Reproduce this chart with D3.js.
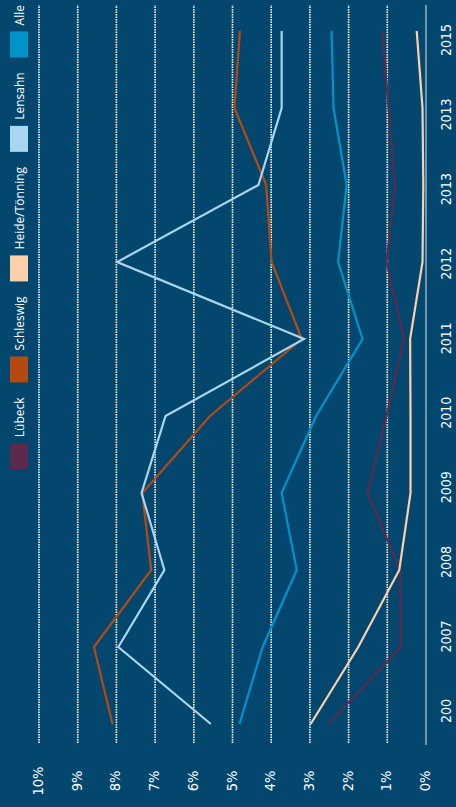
<!DOCTYPE html>
<html>
<head>
<meta charset="utf-8">
<script src="https://cdn.jsdelivr.net/npm/d3@7/dist/d3.min.js"></script>
<style>
  html, body { margin: 0; padding: 0; background: #03476f; }
  svg { display: block; }
</style>
</head>
<body>
<svg id="chart" width="456" height="807"></svg>
<script>
// ---- data ----
const categories = ["200", "2007", "2008", "2009", "2010", "2011", "2012", "2013", "2013", "2015"];
const valueTicks = [0, 1, 2, 3, 4, 5, 6, 7, 8, 9, 10];
const tickLabels = ["0%", "1%", "2%", "3%", "4%", "5%", "6%", "7%", "8%", "9%", "10%"];

const seriesNames = ["Lübeck", "Schleswig", "Heide/Tönning", "Lensahn", "Alle"];
const seriesColors = ["#5b2a4c", "#b44a12", "#fdd0ac", "#a8d6ee", "#0093c9"];

const luebeck      = [2.52, 0.65, 0.67, 1.51, 1.02, 0.57, 1.02, 0.80, 0.97, 1.12];
const schleswig    = [8.10, 8.58, 7.10, 7.33, 5.58, 3.21, 3.99, 4.13, 4.95, 4.81];
const heideToenning= [2.98, 1.75, 0.69, 0.40, 0.40, 0.41, 0.09, 0.07, 0.09, 0.24];
const lensahn      = [5.56, 7.95, 6.76, 7.35, 6.73, 3.15, 7.98, 4.33, 3.73, 3.73];
const alle         = [4.82, 4.22, 3.34, 3.73, 2.84, 1.64, 2.27, 2.05, 2.39, 2.44];

const seriesValues = [luebeck, schleswig, heideToenning, lensahn, alle];

// ---- layout (chart drawn in an unrotated frame, then rotated -90deg) ----
const W = 807, H = 456;
const svg = d3.select("#chart");
const g = svg.append("g").attr("transform", `translate(0,${W}) rotate(-90)`);

const x = d3.scalePoint().domain(d3.range(categories.length)).range([83, 776]);
const xLabel = d3.scalePoint().domain(d3.range(categories.length)).range([96, 767]);
const y = d3.scaleLinear().domain([0, 10]).range([426, 39]);

const axisFont = "'DejaVu Sans Condensed', 'Liberation Sans Narrow', sans-serif";

// gridlines
g.append("g").selectAll("line")
  .data(valueTicks.filter(t => t > 0))
  .join("line")
  .attr("x1", 64).attr("x2", 802)
  .attr("y1", d => y(d)).attr("y2", d => y(d))
  .attr("stroke", "#ffffff")
  .attr("stroke-width", 1.6)
  .attr("stroke-dasharray", "1.5,1");

// baseline
g.append("line")
  .attr("x1", 62).attr("x2", 802)
  .attr("y1", y(0)).attr("y2", y(0))
  .attr("stroke", "#8fabc2")
  .attr("stroke-width", 1.6);

// value tick labels
g.append("g").selectAll("text")
  .data(valueTicks)
  .join("text")
  .attr("x", 26)
  .attr("y", d => y(d) + 4)
  .attr("text-anchor", "middle")
  .attr("fill", "#ffffff")
  .attr("font-family", axisFont)
  .attr("font-size", 14.5)
  .text((d, i) => tickLabels[i]);

// category labels
g.append("g").selectAll("text")
  .data(categories)
  .join("text")
  .attr("x", (d, i) => xLabel(i))
  .attr("y", 451)
  .attr("text-anchor", "middle")
  .attr("fill", "#ffffff")
  .attr("font-family", axisFont)
  .attr("font-size", 14)
  .text(d => d);

// lines
const line = d3.line()
  .x((d, i) => x(i))
  .y(d => y(d));

g.append("g").selectAll("path")
  .data(seriesValues)
  .join("path")
  .attr("d", d => line(d))
  .attr("fill", "none")
  .attr("stroke", (d, i) => seriesColors[i])
  .attr("stroke-width", 2.2)
  .attr("stroke-linejoin", "miter");

// legend (laid out left-to-right in the unrotated frame, right aligned)
const legend = g.append("g");
const items = legend.selectAll("g")
  .data(seriesNames)
  .join("g");
items.append("rect")
  .attr("width", 26).attr("height", 18)
  .attr("y", 10)
  .attr("fill", (d, i) => seriesColors[i]);
items.append("text")
  .attr("x", 32).attr("y", 24)
  .attr("fill", "#ffffff")
  .attr("font-family", "'Open Sans', sans-serif")
  .attr("font-size", 12)
  .text(d => d);

let widths = [];
items.each(function() {
  widths.push(26 + 6 + d3.select(this).select("text").node().getComputedTextLength());
});
const gap = 15;
const total = d3.sum(widths) + gap * (widths.length - 1);
let pos = 802 - total;
items.attr("transform", (d, i) => {
  const t = `translate(${pos},0)`;
  pos += widths[i] + gap;
  return t;
});
</script>
</body>
</html>
